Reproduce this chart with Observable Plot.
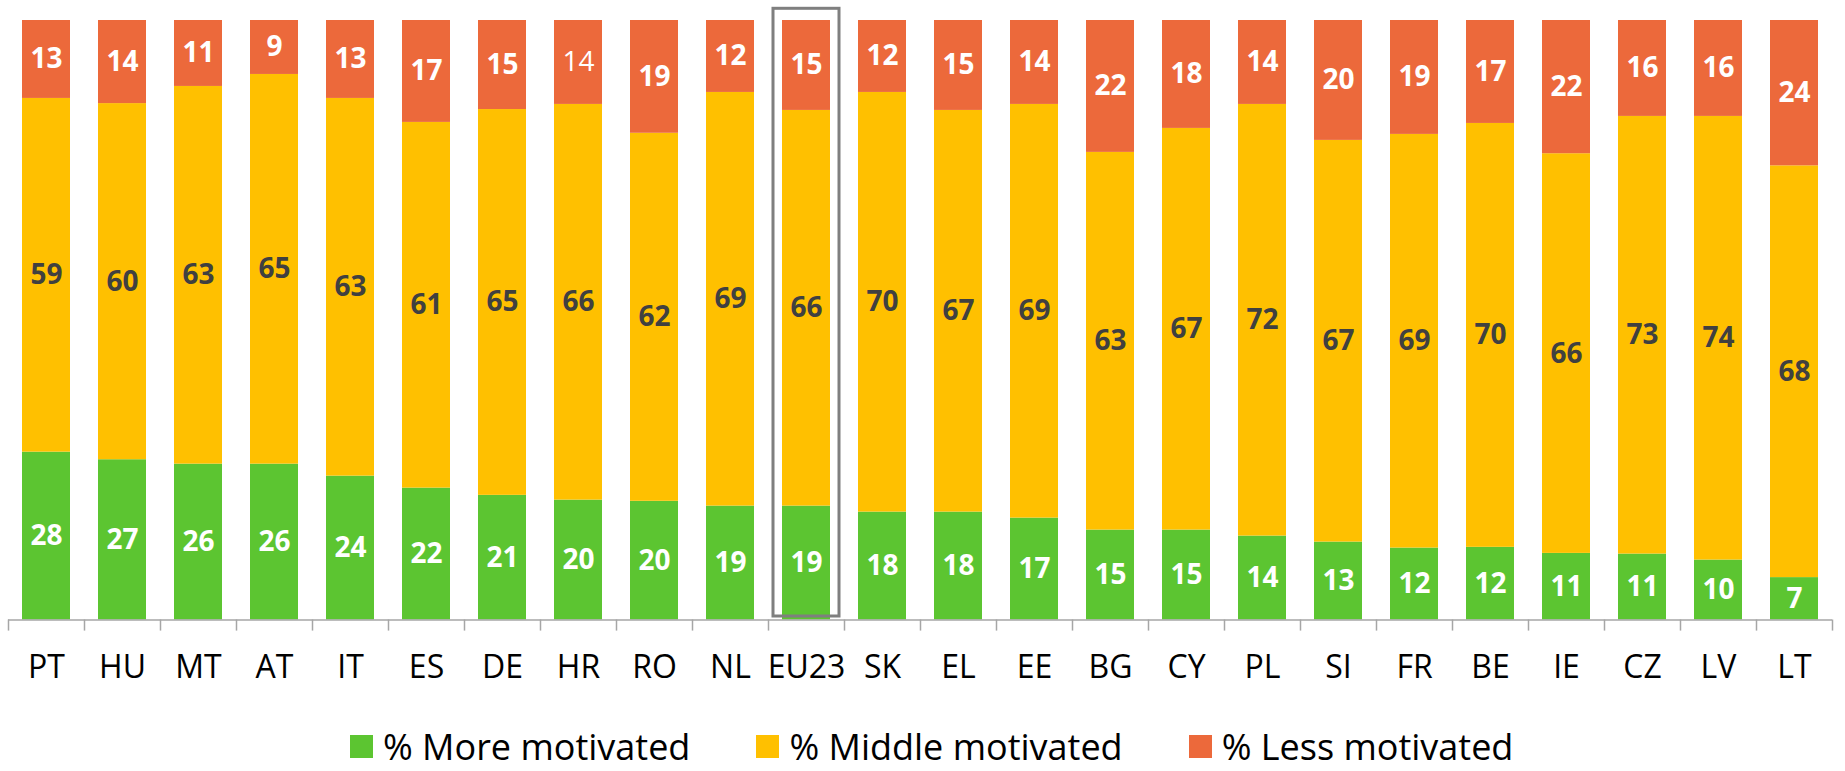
<!DOCTYPE html>
<html>
<head>
<meta charset="utf-8">
<script src="https://cdn.jsdelivr.net/npm/d3@7"></script>
<script src="https://cdn.jsdelivr.net/npm/@observablehq/plot@0.6"></script>
<style>
  html, body { margin: 0; padding: 0; background: #fff; }
  body { width: 1845px; font-family: "Open Sans", "Noto Sans", sans-serif; }
  #legend { height: 71px; box-sizing: border-box; padding-top: 28px; padding-left: 350px; display: flex; align-items: flex-start; font-size: 36px; color: #000; }
  .item { display: flex; align-items: center; margin-right: 66px; height: 37px; }
  .item span { line-height: 37px; white-space: nowrap; }
  .sw { width: 23px; height: 23px; margin-right: 10px; flex: none; }
</style>
</head>
<body>
<div id="chart"></div>
<div id="legend"></div>
<script>
const countries = ["PT","HU","MT","AT","IT","ES","DE","HR","RO","NL","EU23","SK","EL","EE","BG","CY","PL","SI","FR","BE","IE","CZ","LV","LT"];
const moreMotivated   = [28,27,26,26,24,22,21,20,20,19,19,18,18,17,15,15,14,13,12,12,11,11,10,7];
const middleMotivated = [59,60,63,65,63,61,65,66,62,69,66,70,67,69,63,67,72,67,69,70,66,73,74,68];
const lessMotivated   = [13,14,11,9,13,17,15,14,19,12,15,12,15,14,22,18,14,20,19,17,22,16,16,24];
const seriesNames = ["% More motivated", "% Middle motivated", "% Less motivated"];
const seriesColors = ["#5cc531", "#ffc000", "#ec693b"];
const labelColors = ["#ffffff", "#404040", "#ffffff"];
const highlighted = "EU23";
const plainLabels = [["HR", "% Less motivated"]];

const seriesValues = [moreMotivated, middleMotivated, lessMotivated];
const rows = [];
countries.forEach((c, i) => {
  seriesNames.forEach((s, k) => {
    rows.push({country: c, series: s, value: seriesValues[k][i], k});
  });
});
const isPlain = d => plainLabels.some(([c, s]) => c === d.country && s === d.series);

const W = 1845, H = 700, ML = 8, MR = 13, MT = 20, MB = 80.5;
const step = (W - ML - MR) / countries.length;

const stackOpts = {x: "country", y: "value", z: "series", offset: "normalize", order: seriesNames};

const chart = Plot.plot({
  width: W, height: H,
  marginLeft: ML, marginRight: MR, marginTop: MT, marginBottom: MB,
  style: {fontFamily: "'Open Sans', 'Noto Sans', sans-serif", background: "#fff"},
  x: {domain: countries, paddingInner: 0.37, paddingOuter: 0.185, axis: null},
  y: {domain: [0, 1], axis: null},
  color: {domain: seriesNames, range: seriesColors},
  marks: [
    Plot.barY(rows, Plot.stackY({...stackOpts, fill: "series"})),
    Plot.text(rows, Plot.stackY({...stackOpts, text: d => isPlain(d) ? "" : String(d.value), fill: d => labelColors[d.k], fontSize: 28, fontWeight: "bold"})),
    Plot.text(rows, Plot.stackY({...stackOpts, text: d => isPlain(d) ? String(d.value) : "", fill: d => labelColors[d.k], fontSize: 28, fontWeight: "normal"})),
    Plot.barY([highlighted], {x: d => d, y1: 0, y2: 1, fill: "none", stroke: "#7f7f7f", strokeWidth: 3, insetLeft: -9, insetRight: -9, insetTop: -11.7, insetBottom: 3.5}),
    Plot.ruleY([0], {stroke: "#a6a6a6", strokeWidth: 1.5}),
    Plot.ruleX(countries, {x: d => d, y1: 0, y2: -0.0185, stroke: "#a6a6a6", strokeWidth: 1.5, dx: -step / 2}),
    Plot.ruleX(countries.slice(-1), {x: d => d, y1: 0, y2: -0.0185, stroke: "#a6a6a6", strokeWidth: 1.5, dx: step / 2}),
    Plot.axisX({tickSize: 0, tickPadding: 35, fontSize: 32, fill: "#000", label: null})
  ]
});
document.getElementById("chart").appendChild(chart);

const legend = document.getElementById("legend");
seriesNames.forEach((s, k) => {
  const item = document.createElement("div");
  item.className = "item";
  const sw = document.createElement("div");
  sw.className = "sw";
  sw.style.background = seriesColors[k];
  const t = document.createElement("span");
  t.textContent = s;
  item.appendChild(sw); item.appendChild(t);
  legend.appendChild(item);
});
</script>
</body>
</html>
